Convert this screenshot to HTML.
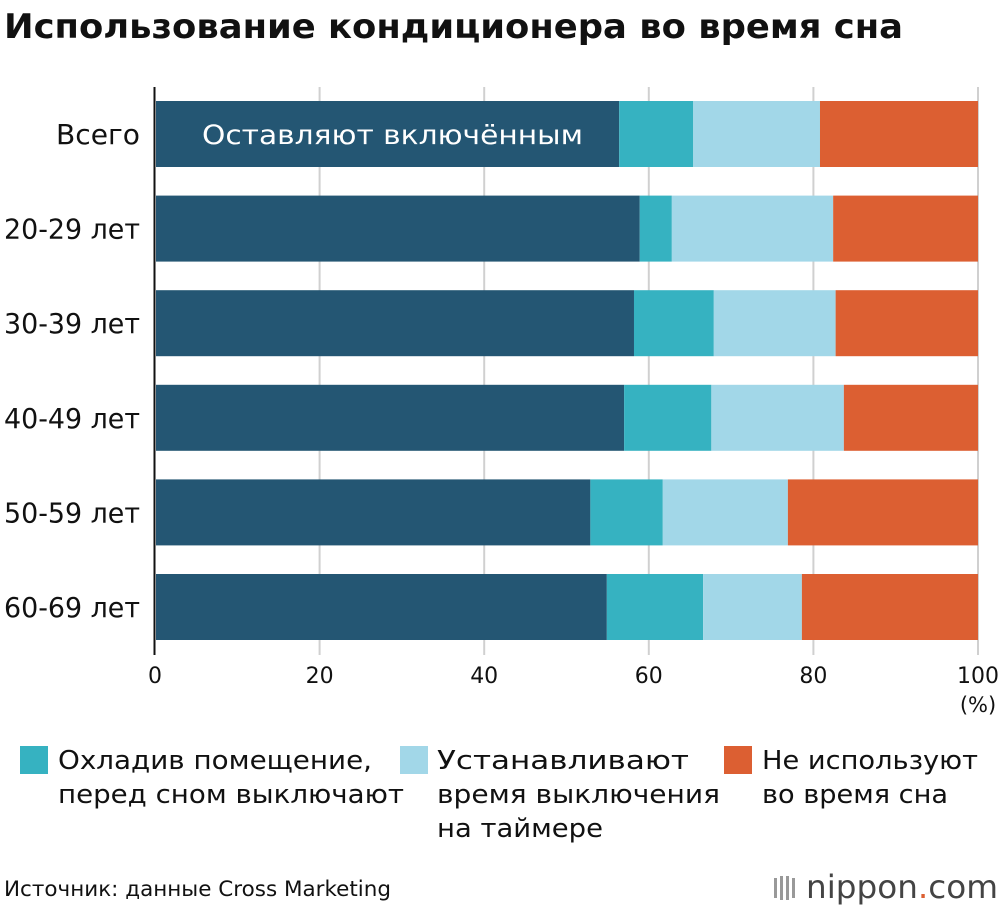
<!DOCTYPE html>
<html><head><meta charset="utf-8"><style>
body{margin:0;background:#fff;width:1000px;height:910px;overflow:hidden;font-family:"DejaVu Sans","Liberation Sans",sans-serif}
svg text{font-family:"DejaVu Sans","Liberation Sans",sans-serif}
</style></head><body>
<svg id="c" width="1000" height="910">
<text x="4" y="38" font-size="34" font-weight="bold" fill="#111" textLength="899" lengthAdjust="spacingAndGlyphs">Использование кондиционера во время сна</text>
<g id="grid"></g><g id="bars"></g><g id="ylabels"></g><g id="xticks"></g>
<line x1="154.5" y1="87" x2="154.5" y2="655" stroke="#111" stroke-width="2"/>
<text x="202" y="144" font-size="27" fill="#fff" textLength="381" lengthAdjust="spacingAndGlyphs">Оставляют включённым</text>
<text x="978" y="712" font-size="21" text-anchor="middle" fill="#111">(%)</text>
<g>
<rect x="20" y="746" width="28" height="28" fill="#36b2c1"/>
<text font-size="26" fill="#111"><tspan x="58" y="769" textLength="314" lengthAdjust="spacingAndGlyphs">Охладив помещение,</tspan><tspan x="58" y="803" textLength="346" lengthAdjust="spacingAndGlyphs">перед сном выключают</tspan></text>
<rect x="400" y="746" width="28" height="28" fill="#a2d7e8"/>
<text font-size="26" fill="#111"><tspan x="437" y="769" textLength="252" lengthAdjust="spacingAndGlyphs">Устанавливают</tspan><tspan x="437" y="803" textLength="283" lengthAdjust="spacingAndGlyphs">время выключения</tspan><tspan x="437" y="837" textLength="166" lengthAdjust="spacingAndGlyphs">на таймере</tspan></text>
<rect x="724" y="746" width="28" height="28" fill="#dc5f32"/>
<text font-size="26" fill="#111"><tspan x="762" y="769" textLength="216" lengthAdjust="spacingAndGlyphs">Не используют</tspan><tspan x="762" y="803" textLength="186" lengthAdjust="spacingAndGlyphs">во время сна</tspan></text>
</g>
<text x="4" y="896" font-size="21" fill="#111" textLength="387" lengthAdjust="spacingAndGlyphs">Источник: данные Cross Marketing</text>
<g>
<rect x="774" y="878" width="3" height="20" fill="#999"/><rect x="780" y="876" width="3" height="24" fill="#999"/><rect x="786" y="876" width="3" height="24" fill="#999"/><rect x="792" y="878" width="3" height="20" fill="#999"/>
<text x="806" y="898" font-size="32" fill="#444" textLength="192" lengthAdjust="spacingAndGlyphs">nippon<tspan fill="#dc5f32">.</tspan>com</text>
</g>
</svg>
<script>
const categories=["Всего","20-29 лет","30-39 лет","40-49 лет","50-59 лет","60-69 лет"];
const leftOn=[56.4,58.9,58.2,57.0,52.9,54.9];
const coolOff=[9.0,3.9,9.7,10.6,8.8,11.7];
const timer=[15.4,19.6,14.8,16.1,15.2,12.0];
const notUsed=[19.2,17.6,17.3,16.3,23.1,21.4];
const xTicks=[0,20,40,60,80,100];
const ns="http://www.w3.org/2000/svg";
const x=v=>155+v*8.23;
const y=i=>101+i*94.6;
const bh=66;
function mk(t,a,p){const e=document.createElementNS(ns,t);for(const k in a)e.setAttribute(k,a[k]);p.appendChild(e);return e;}
const G=document.getElementById('grid'),B=document.getElementById('bars'),YL=document.getElementById('ylabels'),XT=document.getElementById('xticks');
xTicks.forEach(t=>{
 if(t>0){const l=mk('line',{x1:x(t),x2:x(t),y1:87,y2:655,stroke:'#d0d0d0','stroke-width':2},G);
 
 }
 const tx=mk('text',{x:x(t),y:683,'font-size':22,'text-anchor':'middle',fill:'#111'},XT);tx.textContent=t;
 
 
});
const series=[[leftOn,'#245673','left-on'],[coolOff,'#36b2c1','cool-off'],[timer,'#a2d7e8','timer'],[notUsed,'#dc5f32','not-used']];
categories.forEach((c,i)=>{
 let acc=0;
 series.forEach(([arr,col,nm])=>{
  const v=arr[i];
  const r=mk('rect',{x:x(acc)+(acc===0?1:0),y:y(i),width:x(acc+v)-x(acc)-(acc===0?1:0),height:bh,fill:col},B);
  
  
  acc+=v;
 });
 const w=(i===0)?84:136;
 const t=mk('text',{x:140,y:y(i)+bh/2+10,'font-size':28,'text-anchor':'end',fill:'#111',textLength:w,lengthAdjust:'spacingAndGlyphs'},YL);t.textContent=c;
 
 
});
</script>
</body></html>
